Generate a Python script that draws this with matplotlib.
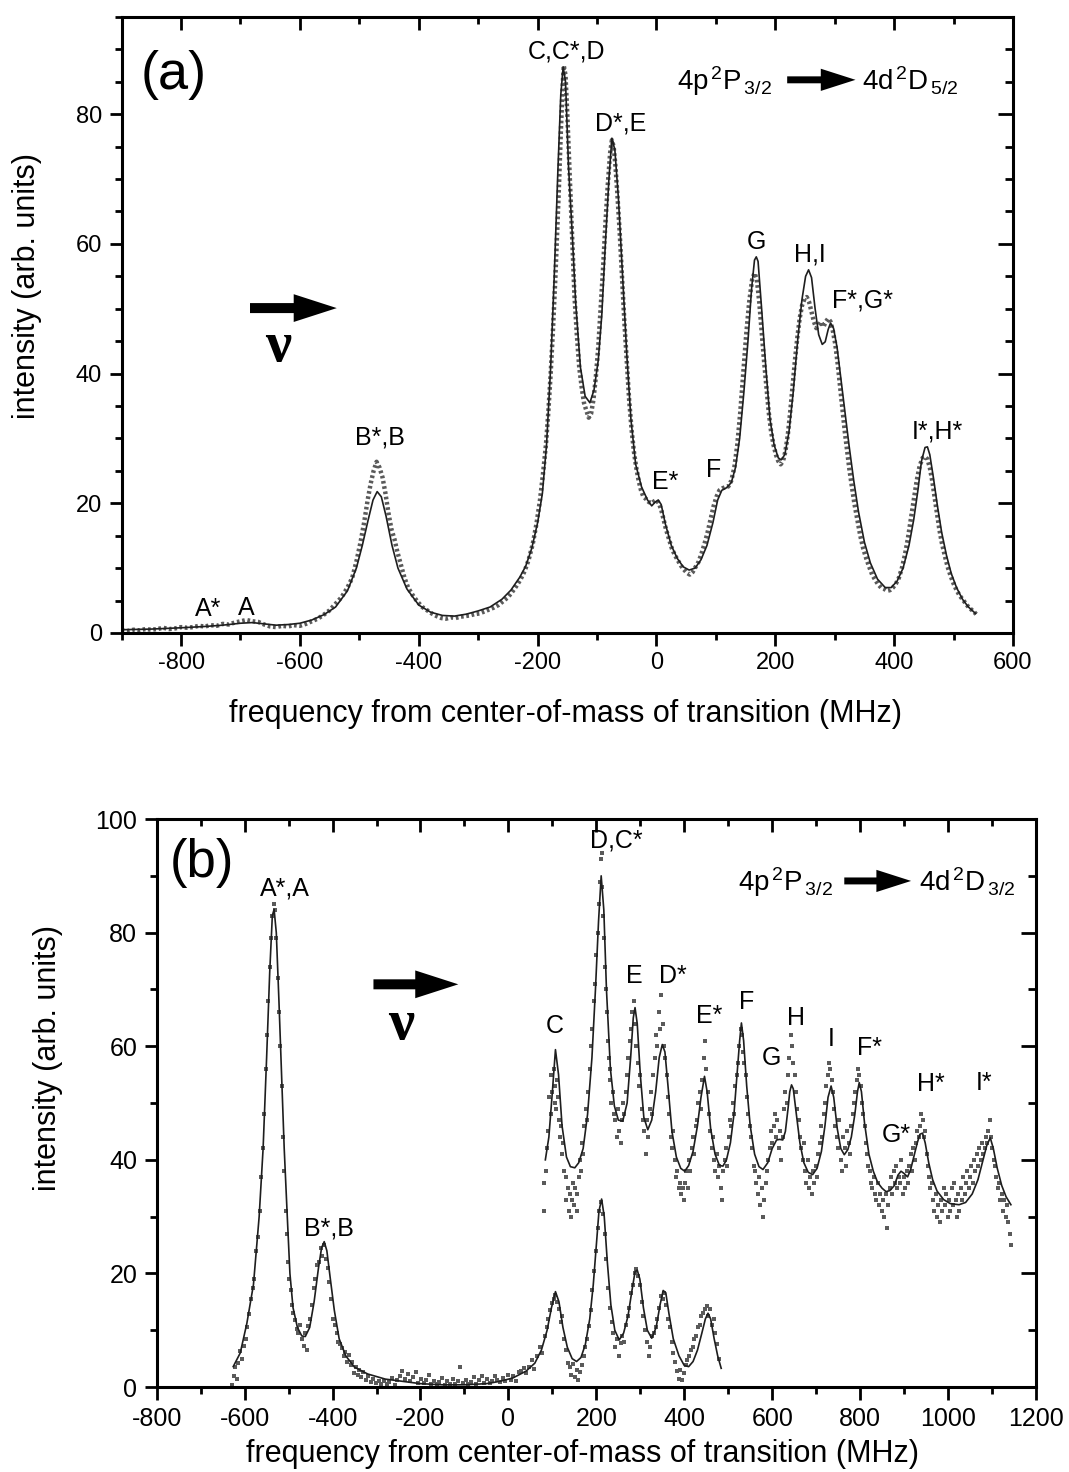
import numpy as np
import matplotlib
matplotlib.use('Agg')
import matplotlib.pyplot as plt
from matplotlib.ticker import MultipleLocator

plt.rcParams['font.family'] = ['Liberation Sans', 'DejaVu Sans']
plt.rcParams['mathtext.fontset'] = 'custom'
plt.rcParams['mathtext.rm'] = 'Liberation Sans'
plt.rcParams['mathtext.it'] = 'Liberation Sans'
plt.rcParams['axes.unicode_minus'] = False

# ---------------- panel (a): 4p 2P3/2 -> 4d 2D5/2 ----------------
# fitted curve (MHz, intensity)
a_fit = [(-900, 0.5), (-850, 0.6), (-800, 0.8), (-760, 1.0), (-730, 1.2), (-700, 1.5), (-680, 1.6),
         (-660, 1.4), (-640, 1.2), (-620, 1.3), (-600, 1.5), (-580, 2.0), (-560, 2.8), (-540, 4.0),
         (-520, 6.5), (-505, 10.0), (-495, 13.5), (-485, 17.5), (-477, 20.5), (-470, 21.8), (-463, 21.0),
         (-455, 18.0), (-445, 13.5), (-435, 10.0), (-420, 6.8), (-400, 4.3), (-380, 3.2), (-360, 2.7),
         (-340, 2.6), (-320, 2.9), (-300, 3.4), (-280, 4.0), (-260, 5.2), (-245, 6.6), (-230, 8.6),
         (-220, 10.3), (-210, 13.0), (-200, 17.0), (-192, 21.5), (-185, 29.0), (-178, 41.0), (-172, 55.0),
         (-166, 71.0), (-161, 83.0), (-157, 87.3), (-153, 85.0), (-148, 72.0), (-142, 62.0), (-136, 51.0),
         (-128, 41.0), (-120, 36.5), (-112, 35.5), (-105, 37.5), (-98, 42.0), (-92, 49.0), (-86, 60.0),
         (-80, 70.0), (-75, 76.3), (-70, 74.5), (-64, 67.0), (-57, 55.0), (-50, 43.0), (-43, 33.0),
         (-35, 26.0), (-25, 22.5), (-15, 20.5), (-8, 19.6), (-2, 20.2), (3, 20.5), (8, 19.8), (15, 16.8),
         (25, 13.5), (35, 11.5), (45, 10.2), (55, 9.7), (65, 10.0), (75, 11.3), (85, 13.5), (95, 17.0),
         (103, 20.5), (110, 22.0), (118, 22.4), (126, 23.2), (133, 25.5), (140, 30.0), (147, 37.0),
         (154, 45.0), (160, 53.0), (165, 57.5), (168, 58.0), (171, 57.3), (177, 50.0), (184, 41.0),
         (191, 33.0), (198, 29.0), (205, 27.0), (210, 26.7), (216, 27.5), (223, 31.0), (230, 37.0),
         (238, 45.5), (245, 51.5), (251, 55.0), (256, 56.0), (261, 54.8), (267, 50.0), (273, 46.0),
         (279, 44.5), (284, 44.9), (289, 46.8), (293, 47.8), (298, 47.0), (304, 44.0), (310, 39.5),
         (316, 35.0), (324, 29.0), (332, 23.5), (340, 18.7), (350, 14.0), (360, 10.8), (372, 8.3),
         (385, 7.0), (395, 7.0), (405, 8.0), (415, 10.0), (425, 13.5), (433, 17.5), (440, 22.0),
         (446, 26.5), (452, 28.6), (456, 28.7), (460, 27.5), (466, 24.0), (473, 19.5), (480, 15.5),
         (488, 12.0), (496, 9.2), (505, 7.0), (515, 5.2), (525, 4.0), (537, 3.0)]

# measured points
a_data = [(-900, 0.4), (-890, 0.3), (-880, 0.5), (-870, 0.4), (-860, 0.6), (-850, 0.5), (-840, 0.6),
          (-830, 0.8), (-820, 0.6), (-810, 0.7), (-800, 0.9), (-790, 0.8), (-780, 0.9), (-770, 1.1),
          (-760, 1.0), (-750, 1.2), (-740, 1.1), (-730, 1.4), (-720, 1.3), (-710, 1.6), (-700, 1.8),
          (-690, 2.0), (-680, 1.8), (-670, 1.7), (-660, 1.3), (-650, 1.0), (-640, 0.9), (-630, 1.1),
          (-620, 1.0), (-610, 1.2), (-600, 1.1), (-590, 1.4), (-580, 1.8), (-570, 2.2), (-560, 2.8),
          (-550, 3.5), (-540, 4.5), (-530, 5.5), (-520, 7.0), (-512, 8.5), (-505, 11.0), (-498, 14.0),
          (-492, 17.0), (-486, 20.5), (-481, 23.0), (-476, 25.0), (-471, 26.4), (-466, 25.5), (-461, 24.0),
          (-456, 21.5), (-451, 18.5), (-446, 16.0), (-441, 14.5), (-436, 12.5), (-430, 10.5), (-424, 8.5),
          (-418, 7.0), (-410, 5.8), (-402, 4.8), (-394, 4.0), (-386, 3.5), (-378, 3.0), (-370, 2.6),
          (-362, 2.3), (-354, 2.2), (-346, 2.4), (-338, 2.3), (-330, 2.5), (-322, 2.6), (-314, 2.7),
          (-306, 2.9), (-298, 3.0), (-290, 3.3), (-282, 3.6), (-274, 3.9), (-266, 4.3), (-258, 4.9),
          (-250, 5.5), (-243, 6.3), (-236, 7.2), (-229, 8.2), (-222, 9.5), (-215, 11.3), (-208, 13.8),
          (-202, 16.8), (-196, 20.5), (-191, 24.5), (-186, 29.0), (-182, 34.0), (-178, 40.0), (-174, 47.0),
          (-170, 55.0), (-167, 62.0), (-164, 69.0), (-161, 77.0), (-158, 84.0), (-156, 87.5), (-153, 86.0),
          (-150, 80.0), (-147, 73.0), (-144, 66.0), (-141, 59.0), (-138, 52.0), (-134, 46.0), (-130, 41.0),
          (-126, 38.0), (-122, 35.5), (-118, 34.3), (-114, 33.2), (-110, 33.8), (-106, 36.0), (-102, 39.5),
          (-98, 44.0), (-94, 50.0), (-90, 56.0), (-86, 63.0), (-82, 69.0), (-78, 74.0), (-75, 76.0),
          (-72, 75.0), (-69, 72.0), (-66, 68.0), (-62, 62.0), (-58, 55.0), (-54, 48.0), (-50, 42.0),
          (-46, 36.0), (-42, 31.5), (-38, 28.0), (-34, 25.5), (-30, 23.5), (-26, 22.0), (-22, 21.0),
          (-18, 20.7), (-13, 20.2), (-8, 20.0), (-4, 20.3), (0, 20.5), (4, 20.0), (8, 19.0), (12, 17.5),
          (16, 16.0), (21, 14.5), (26, 13.0), (31, 12.0), (36, 11.2), (41, 10.4), (46, 9.8), (51, 9.3),
          (56, 9.0), (61, 9.4), (66, 10.2), (71, 11.0), (76, 12.3), (81, 13.8), (86, 15.5), (91, 17.5),
          (96, 19.5), (101, 21.0), (106, 22.0), (111, 22.3), (116, 22.5), (121, 22.6), (126, 23.5),
          (131, 25.5), (136, 29.0), (141, 34.0), (146, 40.0), (151, 46.0), (156, 51.0), (161, 54.5),
          (165, 55.5), (169, 54.5), (173, 51.0), (177, 46.5), (181, 42.0), (185, 38.0), (189, 34.0),
          (193, 31.0), (197, 29.0), (201, 27.5), (205, 26.5), (209, 26.0), (213, 26.5), (217, 28.0),
          (221, 30.5), (225, 34.0), (229, 38.0), (233, 42.0), (237, 45.5), (241, 48.5), (245, 50.5),
          (249, 51.5), (253, 51.8), (257, 51.0), (261, 49.5), (265, 48.0), (269, 47.0), (273, 47.5),
          (277, 48.0), (281, 47.2), (285, 48.0), (289, 48.5), (293, 48.0), (297, 46.5), (301, 44.5),
          (305, 41.5), (309, 38.0), (313, 34.5), (317, 31.0), (321, 28.0), (325, 25.0), (329, 22.5),
          (333, 20.0), (338, 17.5), (343, 15.0), (348, 13.0), (353, 11.5), (358, 10.2), (363, 9.0),
          (368, 8.2), (373, 7.5), (378, 7.0), (383, 6.8), (388, 6.5), (393, 6.6), (398, 7.0), (403, 7.6),
          (408, 8.5), (413, 10.0), (418, 12.0), (423, 14.5), (428, 17.5), (433, 20.5), (438, 23.5),
          (443, 25.8), (448, 27.0), (452, 27.2), (456, 26.8), (460, 25.5), (464, 23.5), (468, 21.0),
          (472, 18.5), (476, 16.0), (480, 14.0), (485, 12.0), (490, 10.2), (495, 8.8), (500, 7.6),
          (505, 6.6), (510, 5.8), (515, 5.2), (520, 4.6), (525, 4.0), (530, 3.6), (535, 3.2), (538, 2.9)]

# peak labels panel (a): text, x, y
a_labels = [('C,C*,D', -152, 89.6), ('D*,E', -60, 78.5), ('G', 168, 60.3), ('H,I', 259, 58.3),
            ('F*,G*', 346, 51.3), ('I*,H*', 472, 31.0), ('E*', 15, 23.3), ('F', 96, 25.1),
            ('B*,B', -465, 30.2), ('A*', -755, 3.7), ('A', -690, 3.8)]

# ---------------- panel (b): 4p 2P3/2 -> 4d 2D3/2 ----------------
b_fit_low = [(-626, 3.6), (-610, 6.0), (-595, 11.2), (-580, 18.0), (-567, 30.0), (-558, 42.0), (-550, 58.0),
             (-543, 73.0), (-537, 83.0), (-533, 84.1), (-528, 80.0), (-522, 68.0), (-516, 55.0), (-510, 42.0),
             (-503, 30.0), (-497, 20.0), (-490, 14.0), (-480, 10.5), (-470, 9.0), (-462, 8.9), (-452, 10.5),
             (-442, 15.0), (-432, 21.0), (-425, 24.5), (-419, 25.6), (-413, 24.0), (-405, 19.0), (-396, 13.5),
             (-385, 8.5), (-370, 5.5), (-350, 3.5), (-320, 2.3), (-280, 1.4), (-240, 1.0), (-200, 0.6),
             (-150, 0.4), (-100, 0.4), (-50, 0.6), (-20, 1.0), (10, 1.6), (40, 2.8), (60, 4.2), (75, 6.5),
             (88, 10.0), (98, 14.0), (107, 16.8), (115, 15.0), (124, 10.5), (134, 7.0), (145, 5.0),
             (155, 4.5), (165, 5.2), (175, 7.5), (185, 12.0), (193, 18.0), (200, 25.0), (206, 31.0),
             (212, 33.1), (218, 30.0), (225, 22.0), (233, 14.5), (242, 10.0), (252, 8.3), (262, 9.5),
             (272, 12.5), (281, 17.0), (288, 20.3), (293, 20.6), (299, 19.0), (307, 14.0), (316, 10.0),
             (326, 8.6), (336, 10.5), (345, 14.5), (352, 17.0), (358, 16.6), (365, 13.0), (375, 8.5),
             (388, 5.5), (400, 3.8), (410, 3.6), (420, 4.5), (430, 6.5), (440, 9.5), (448, 12.0),
             (454, 13.0), (460, 12.0), (468, 8.5), (476, 5.5), (484, 3.3)]

b_data_low = [(-628, 0.3), (-625, 2.0), (-622, 3.5), (-618, 1.5), (-614, 4.2), (-610, 6.3), (-606, 5.0),
              (-602, 7.2), (-598, 8.5), (-594, 10.5), (-590, 12.8), (-586, 15.5), (-582, 17.5), (-578, 19.0),
              (-574, 24.0), (-570, 26.5), (-566, 31.0), (-562, 37.0), (-558, 42.0), (-555, 48.0), (-552, 56.0),
              (-549, 62.0), (-546, 68.0), (-543, 74.0), (-540, 79.0), (-537, 83.0), (-534, 85.0), (-531, 84.0),
              (-528, 79.0), (-525, 72.0), (-522, 66.0), (-519, 60.0), (-516, 53.0), (-513, 44.0), (-510, 38.0),
              (-507, 31.0), (-504, 27.0), (-501, 22.0), (-498, 19.0), (-495, 17.0), (-492, 14.5), (-489, 13.0),
              (-486, 11.8), (-482, 10.2), (-478, 9.6), (-474, 11.0), (-470, 8.5), (-466, 7.2), (-462, 9.5),
              (-458, 6.5), (-455, 10.8), (-451, 12.0), (-447, 14.5), (-443, 17.5), (-439, 19.0), (-435, 21.5),
              (-431, 22.0), (-427, 24.5), (-423, 23.0), (-419, 25.0), (-415, 22.5), (-411, 21.0), (-407, 18.5),
              (-403, 15.5), (-399, 12.0), (-395, 11.0), (-391, 9.5), (-387, 8.0), (-383, 7.5), (-379, 6.8),
              (-375, 5.5), (-371, 6.2), (-367, 4.5), (-363, 5.6), (-359, 3.8), (-355, 4.4), (-351, 2.5),
              (-347, 3.6), (-343, 2.2), (-339, 3.0), (-335, 1.8), (-331, 2.6), (-325, 1.2), (-319, 2.0),
              (-313, 0.9), (-307, 1.5), (-301, 0.7), (-295, 1.1), (-289, 0.6), (-283, 1.0), (-277, 0.5),
              (-271, 0.9), (-265, 1.6), (-259, 0.4), (-253, 1.2), (-247, 2.0), (-241, 2.8), (-235, 1.4),
              (-229, 2.3), (-223, 1.0), (-217, 1.8), (-211, 2.6), (-205, 0.8), (-199, 1.5), (-193, 0.7),
              (-187, 1.2), (-181, 2.2), (-175, 0.6), (-169, 1.0), (-163, 0.5), (-157, 0.9), (-151, 1.6),
              (-145, 0.4), (-139, 1.1), (-133, 0.6), (-127, 1.4), (-121, 0.5), (-115, 1.0), (-109, 3.6),
              (-103, 0.7), (-97, 1.3), (-91, 0.5), (-85, 0.9), (-79, 1.8), (-73, 0.6), (-67, 1.2), (-61, 1.9),
              (-55, 0.8), (-49, 1.4), (-43, 0.7), (-37, 1.0), (-31, 2.0), (-25, 1.2), (-19, 0.9), (-13, 1.6),
              (-7, 1.0), (-1, 2.2), (5, 1.3), (11, 2.0), (17, 1.0), (23, 2.6), (29, 2.8), (35, 3.4), (41, 2.5),
              (47, 3.6), (53, 4.8), (59, 3.2), (65, 5.5), (71, 7.0), (77, 6.0), (83, 9.0), (87, 10.5),
              (91, 12.0), (95, 13.5), (99, 14.8), (103, 15.5), (107, 16.2), (111, 15.0), (115, 13.8),
              (119, 11.5), (123, 12.5), (127, 8.5), (131, 6.5), (135, 4.2), (139, 3.5), (143, 2.2), (147, 4.0),
              (151, 1.8), (155, 3.0), (159, 1.2), (163, 2.6), (167, 3.8), (171, 5.5), (175, 7.0), (179, 8.5),
              (183, 10.8), (187, 13.5), (191, 17.0), (195, 20.5), (199, 24.0), (203, 28.0), (207, 31.0),
              (211, 32.5), (215, 30.5), (219, 27.0), (223, 22.5), (227, 17.5), (231, 14.0), (235, 11.5),
              (239, 9.5), (243, 7.0), (247, 8.5), (251, 5.5), (255, 7.8), (259, 9.0), (263, 8.0), (267, 11.0),
              (271, 12.5), (275, 14.0), (279, 16.5), (283, 18.0), (287, 20.0), (291, 20.8), (295, 19.5),
              (299, 18.0), (303, 15.0), (307, 12.5), (311, 10.0), (315, 8.0), (319, 5.5), (323, 7.0),
              (327, 9.0), (331, 9.5), (335, 10.5), (339, 12.0), (343, 14.0), (347, 16.0), (351, 15.5),
              (355, 16.5), (359, 14.5), (363, 12.0), (367, 10.5), (371, 8.0), (375, 6.0), (379, 4.5),
              (383, 2.8), (387, 1.5), (391, 3.0), (395, 1.2), (399, 2.5), (403, 3.8), (407, 4.8), (411, 5.5),
              (415, 6.5), (419, 7.0), (423, 8.5), (427, 9.0), (431, 10.5), (435, 11.0), (439, 12.5),
              (443, 13.0), (447, 13.8), (451, 14.2), (455, 12.5), (459, 13.8), (463, 11.0), (467, 12.0),
              (471, 9.5), (475, 7.5), (479, 5.0)]

b_fit_up = [(84, 40.0), (92, 44.0), (100, 52.0), (107, 59.4), (114, 55.0), (122, 46.0), (132, 40.5),
            (141, 38.8), (151, 38.6), (160, 39.5), (170, 42.0), (180, 48.0), (190, 58.0), (198, 70.0),
            (205, 82.0), (211, 90.0), (217, 84.0), (223, 70.0), (232, 56.0), (241, 49.5), (250, 47.0),
            (260, 46.8), (270, 50.0), (278, 58.0), (284, 65.0), (288, 66.8), (293, 64.0), (300, 55.0),
            (308, 47.5), (317, 45.3), (326, 47.0), (335, 52.0), (343, 58.0), (350, 60.3), (356, 59.0),
            (363, 53.0), (372, 45.0), (382, 40.5), (392, 38.5), (401, 38.0), (410, 39.0), (420, 41.5),
            (430, 46.0), (438, 51.0), (446, 54.7), (452, 52.0), (460, 45.5), (470, 41.0), (480, 39.0),
            (488, 38.9), (496, 40.0), (505, 43.0), (513, 48.0), (520, 55.0), (526, 61.0), (530, 64.1),
            (535, 61.0), (542, 53.0), (550, 46.0), (560, 41.0), (570, 38.8), (579, 38.3), (590, 39.5),
            (600, 42.0), (610, 43.5), (617, 43.6), (624, 43.5), (630, 45.0), (636, 49.0), (640, 52.0),
            (644, 53.2), (648, 52.5), (655, 48.0), (663, 43.0), (672, 39.5), (682, 37.8), (692, 37.4),
            (702, 38.5), (712, 41.5), (720, 46.0), (727, 51.0), (734, 53.0), (740, 51.0), (748, 45.5),
            (756, 42.0), (764, 40.9), (772, 41.8), (780, 44.0), (788, 48.0), (794, 52.0), (798, 53.6),
            (803, 52.0), (810, 46.5), (820, 41.0), (830, 38.0), (840, 36.0), (850, 35.0), (859, 34.4),
            (868, 34.6), (878, 35.5), (886, 37.3), (893, 38.0), (900, 37.6), (908, 37.0), (915, 38.3),
            (922, 40.5), (930, 43.0), (936, 44.5), (942, 44.7), (948, 43.0), (956, 39.5), (965, 36.5),
            (975, 34.5), (990, 33.0), (1005, 32.3), (1025, 32.1), (1040, 32.5), (1055, 34.0), (1068, 36.5),
            (1078, 39.5), (1088, 42.5), (1096, 43.9), (1103, 42.0), (1112, 38.5), (1122, 35.5),
            (1132, 33.5), (1143, 32.1)]

b_data_up = [(80, 31), (82, 36), (85, 38), (88, 42), (91, 45), (93, 51), (96, 48), (98, 55), (100, 52),
             (103, 56), (105, 50), (107, 53), (109, 49), (111, 54), (113, 51), (116, 47), (118, 44), (120, 46),
             (122, 41), (125, 43), (127, 38), (130, 37), (132, 33), (135, 35), (137, 31), (140, 34), (142, 30),
             (145, 33), (147, 36), (150, 32), (152, 35), (155, 31), (157, 34), (160, 37), (162, 40), (165, 38),
             (168, 43), (170, 41), (173, 46), (176, 49), (179, 47), (182, 52), (185, 56), (188, 60), (191, 63),
             (194, 68), (197, 71), (200, 76), (203, 80), (206, 85), (208, 89), (210, 93), (212, 94), (214, 88),
             (216, 83), (218, 79), (220, 74), (222, 70), (224, 66), (226, 61), (228, 58), (230, 56), (232, 54),
             (234, 50), (237, 52), (240, 48), (243, 47), (246, 44), (249, 49), (252, 45), (255, 43), (258, 47),
             (261, 50), (264, 48), (267, 52), (270, 55), (273, 58), (276, 61), (279, 63), (282, 66), (285, 68),
             (288, 64), (291, 60), (294, 57), (297, 53), (300, 55), (303, 49), (306, 47), (309, 45), (312, 41),
             (315, 47), (318, 44), (321, 49), (324, 52), (327, 48), (330, 55), (333, 58), (336, 62), (339, 60),
             (342, 66), (345, 63), (348, 69), (351, 64), (354, 60), (357, 58), (360, 55), (363, 51), (366, 48),
             (369, 44), (372, 42), (375, 45), (378, 40), (381, 37), (384, 38), (387, 35), (390, 36), (393, 34),
             (396, 35), (399, 33), (402, 36), (405, 38), (408, 35), (411, 40), (414, 38), (417, 42), (420, 44),
             (423, 41), (426, 46), (429, 47), (432, 50), (435, 52), (438, 49), (441, 54), (444, 58), (447, 61),
             (450, 56), (453, 52), (456, 48), (459, 45), (462, 42), (465, 44), (468, 40), (471, 38), (474, 41),
             (477, 37), (480, 39), (483, 35), (486, 33), (489, 38), (492, 40), (495, 42), (498, 39), (501, 44),
             (504, 47), (507, 46), (510, 50), (513, 48), (516, 53), (519, 55), (522, 57), (525, 60), (528, 63),
             (531, 62), (534, 59), (537, 57), (540, 55), (543, 51), (546, 48), (549, 46), (552, 44), (555, 42),
             (558, 39), (561, 38), (564, 36), (567, 34), (570, 37), (573, 32), (576, 35), (579, 30), (582, 33),
             (585, 36), (588, 38), (591, 40), (594, 42), (597, 45), (600, 43), (603, 46), (606, 48), (609, 44),
             (612, 47), (615, 42), (618, 45), (621, 40), (624, 44), (627, 49), (630, 52), (633, 50), (636, 55),
             (639, 58), (642, 62), (645, 60), (648, 57), (651, 55), (654, 52), (657, 49), (660, 47), (663, 44),
             (666, 42), (669, 40), (672, 43), (675, 38), (678, 36), (681, 40), (684, 35), (687, 37), (690, 34),
             (693, 38), (696, 36), (699, 39), (702, 37), (705, 41), (708, 43), (711, 46), (714, 44), (717, 48),
             (720, 50), (723, 53), (726, 55), (729, 57), (732, 56), (735, 54), (738, 52), (741, 49), (744, 46),
             (747, 44), (750, 42), (753, 47), (756, 40), (759, 38), (762, 44), (765, 42), (768, 39), (771, 45),
             (774, 43), (777, 41), (780, 46), (783, 48), (786, 50), (789, 52), (792, 54), (795, 56), (798, 55),
             (801, 53), (804, 50), (807, 48), (810, 46), (813, 43), (816, 41), (819, 39), (822, 38), (825, 36),
             (828, 35), (831, 37), (834, 34), (837, 33), (840, 36), (843, 32), (846, 34), (849, 31), (852, 33),
             (855, 30), (858, 34), (861, 28), (864, 32), (867, 35), (870, 37), (873, 34), (876, 38), (879, 36),
             (882, 39), (885, 35), (888, 37), (891, 36), (894, 40), (897, 34), (900, 37), (903, 35), (906, 38),
             (909, 36), (912, 39), (915, 41), (918, 38), (921, 42), (924, 40), (927, 43), (930, 45), (933, 44),
             (936, 46), (939, 48), (942, 47), (945, 44), (948, 45), (951, 41), (954, 39), (957, 37), (960, 35),
             (963, 36), (966, 33), (969, 31), (972, 34), (975, 30), (978, 32), (981, 29), (984, 33), (987, 31),
             (990, 35), (993, 32), (996, 34), (999, 30), (1002, 33), (1005, 31), (1008, 35), (1011, 32),
             (1014, 36), (1017, 33), (1020, 30), (1023, 34), (1026, 31), (1029, 35), (1032, 33), (1035, 37),
             (1038, 34), (1041, 36), (1044, 38), (1047, 35), (1050, 37), (1053, 39), (1056, 36), (1059, 40),
             (1062, 38), (1065, 41), (1068, 39), (1071, 42), (1074, 40), (1077, 43), (1080, 41), (1083, 42),
             (1086, 44), (1089, 43), (1092, 45), (1095, 47), (1098, 44), (1101, 42), (1104, 40), (1107, 39),
             (1110, 37), (1113, 35), (1116, 36), (1119, 33), (1122, 34), (1125, 31), (1128, 33), (1131, 30),
             (1134, 32), (1137, 29), (1140, 27), (1143, 25)]

b_labels = [('A*,A', -508, 87.7), ('B*,B', -408, 28.0), ('C', 105, 63.5), ('D,C*', 245, 96.2),
            ('E', 287, 72.4), ('D*', 373, 72.4), ('E*', 457, 65.3), ('F', 541, 67.7), ('G', 598, 58.0),
            ('H', 654, 65.0), ('I', 734, 61.2), ('F*', 821, 59.7), ('G*', 882, 44.4), ('H*', 961, 53.3),
            ('I*', 1082, 53.6)]

DOT = '#5a5a5a'
LINE = '#1e1e1e'
PEAKFS = 18
LABFS = 22

fig = plt.figure(figsize=(10.69, 14.72), dpi=100)
ax1 = fig.add_axes([0.1138, 0.5700, 0.8338, 0.4185])
ax2 = fig.add_axes([0.1466, 0.0577, 0.8225, 0.3859])


def style_axes(ax, xmaj, xmin, ymaj, ymin, tickfs):
    ax.xaxis.set_major_locator(MultipleLocator(xmaj))
    ax.xaxis.set_minor_locator(MultipleLocator(xmin))
    ax.yaxis.set_major_locator(MultipleLocator(ymaj))
    ax.yaxis.set_minor_locator(MultipleLocator(ymin))
    ax.tick_params(which='major', direction='out', length=9, width=2, labelsize=tickfs, pad=5)
    ax.tick_params(which='minor', direction='out', length=5, width=2)
    for s in ax.spines.values():
        s.set_linewidth(2.2)
    # top / right ticks point inward
    top = ax.secondary_xaxis('top')
    top.xaxis.set_major_locator(MultipleLocator(xmaj))
    top.xaxis.set_minor_locator(MultipleLocator(xmin))
    top.tick_params(which='major', direction='in', length=9, width=2, labeltop=False)
    top.tick_params(which='minor', direction='in', length=5, width=2)
    right = ax.secondary_yaxis('right')
    right.yaxis.set_major_locator(MultipleLocator(ymaj))
    right.yaxis.set_minor_locator(MultipleLocator(ymin))
    right.tick_params(which='major', direction='in', length=11, width=2, labelright=False)
    right.tick_params(which='minor', direction='in', length=6, width=2)


def arrow(ax, x0, x1, y, hl, hw, tw):
    ax.annotate('', xy=(x1, y), xytext=(x0, y),
                arrowprops=dict(arrowstyle='simple,head_length=%g,head_width=%g,tail_width=%g' % (hl, hw, tw),
                                mutation_scale=10, color='black', shrinkA=0, shrinkB=0, lw=0))


NU = dict(fontsize=42, fontweight='bold', family=['Liberation Serif', 'DejaVu Serif'],
          ha='center', va='center')

# ---- panel (a)
ax = ax1
ax.plot(*np.array(a_data).T, ls=(0, (0.6, 0.6)), lw=3.2, color=DOT)
ax.plot(*np.array(a_fit).T, lw=1.2, color=LINE)
ax.set_xlim(-900, 600)
ax.set_ylim(0, 95)
style_axes(ax, 200, 100, 20, 5, 17)
ax.set_xlabel('frequency from center-of-mass of transition (MHz)', fontsize=LABFS)
ax.set_ylabel('intensity (arb. units)', fontsize=LABFS)
ax.xaxis.set_label_coords(0.4985, -0.108)
ax.yaxis.set_label_coords(-0.089, 0.563)
for t, x, y in a_labels:
    ax.text(x, y, t, fontsize=PEAKFS, ha='center', va='center')
ax.text(-813, 86, '(a)', fontsize=39, ha='center', va='center')
ax.text(35, 83.7, r'$\mathrm{4p^{\,2}P_{\,3/2}}$', fontsize=20, ha='left', va='baseline')
ax.text(346, 83.7, r'$\mathrm{4d^{\,2}D_{\,5/2}}$', fontsize=20, ha='left', va='baseline')
arrow(ax, 220, 335, 85.3, 2.5, 1.6, 0.5)
arrow(ax, -684, -538, 50.1, 3.1, 2.0, 0.72)
ax.text(-637, 44.1, 'ν', **NU)

# ---- panel (b)
ax = ax2
ax.plot(*np.array(b_data_low).T, ls='none', marker='s', ms=2.6, color=DOT, mew=0)
ax.plot(*np.array(b_data_up).T, ls='none', marker='s', ms=2.6, color=DOT, mew=0)
ax.plot(*np.array(b_fit_low).T, lw=1.2, color=LINE)
ax.plot(*np.array(b_fit_up).T, lw=1.2, color=LINE)
ax.set_xlim(-800, 1200)
ax.set_ylim(0, 100)
style_axes(ax, 200, 100, 20, 10, 18)
ax.set_xlabel('frequency from center-of-mass of transition (MHz)', fontsize=LABFS)
ax.set_ylabel('intensity (arb. units)', fontsize=LABFS)
ax.xaxis.set_label_coords(0.484, -0.092)
ax.yaxis.set_label_coords(-0.107, 0.58)
for t, x, y in b_labels:
    ax.text(x, y, t, fontsize=PEAKFS, ha='center', va='center')
ax.text(-696, 92.2, '(b)', fontsize=38, ha='center', va='center')
ax.text(522, 87.3, r'$\mathrm{4p^{\,2}P_{\,3/2}}$', fontsize=20, ha='left', va='baseline')
ax.text(935, 87.3, r'$\mathrm{4d^{\,2}D_{\,3/2}}$', fontsize=20, ha='left', va='baseline')
arrow(ax, 764, 916, 89.1, 2.5, 1.6, 0.5)
arrow(ax, -307, -114, 70.9, 3.1, 2.0, 0.72)
ax.text(-243, 63.8, 'ν', **NU)

fig.savefig('out.png', dpi=100)
